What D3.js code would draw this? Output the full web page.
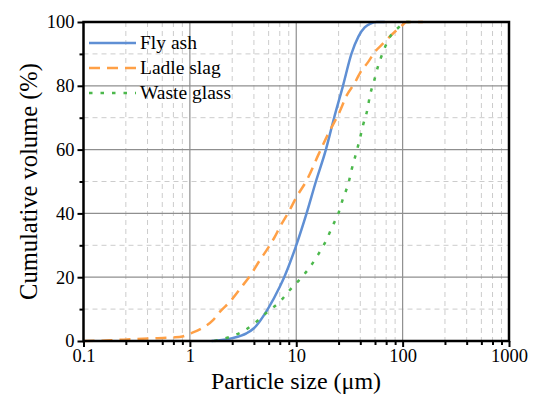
<!DOCTYPE html>
<html>
<head>
<meta charset="utf-8">
<script src="https://cdn.jsdelivr.net/npm/d3@7"></script>
<style>
  html, body { margin: 0; padding: 0; background: #fff; }
  svg { display: block; }
  text { font-family: "Liberation Serif", "Times New Roman", serif; fill: #000; }
</style>
</head>
<body>
<svg id="chart" width="536" height="394"></svg>
<script>
// Particle size distribution (cumulative volume %) of three materials
const flyAshSize = [1.6, 2, 2.5, 3.4, 4, 5.4, 7, 7.7, 10, 12.5, 15.3, 19, 22.7, 27.5, 33, 38.5, 44, 50, 57, 68];
const flyAshVol  = [0, 0.3, 0.9, 2.4, 4, 10, 17, 20, 30, 40, 50, 60, 70, 80, 90, 95.5, 98.3, 99.5, 100, 100];

const ladleSlagSize = [0.1, 0.15, 0.2, 0.3, 0.5, 0.7, 0.85, 1, 1.3, 1.66, 1.92, 2.38, 3.07, 3.81, 4.56, 5.27, 6.3, 7.03, 8.5, 10, 12.6, 16.2, 20, 25.7, 29.8, 35.6, 39.7, 47.5, 55, 63.5, 78.9, 98, 109, 155];
const ladleSlagVol  = [0, 0.1, 0.3, 0.6, 0.9, 1.1, 1.4, 2.3, 4, 6.6, 9.2, 12.3, 17, 21.2, 25.4, 28.5, 32.7, 35.8, 40.5, 45, 50.5, 58.5, 65, 72, 77, 81, 84, 87.5, 90.7, 92.8, 96, 98.8, 100, 100];

const wasteGlassSize = [1.7, 2.38, 3.3, 4.2, 5.4, 7, 8.7, 10.8, 13.4, 16, 19.3, 21.9, 24.9, 27.6, 30.9, 33.2, 36.5, 39.7, 42.5, 46.5, 49.4, 54.2, 58.6, 65.7, 76.3, 91, 109, 136];
const wasteGlassVol  = [0, 1.3, 3.4, 6, 9.2, 12.3, 16, 19.3, 23.1, 27, 31.8, 36, 40, 44.8, 49.4, 53.8, 58.8, 63.5, 67.7, 72.4, 77.1, 81.8, 86, 90.7, 95.4, 98.2, 100, 100];

const seriesNames = ["Fly ash", "Ladle slag", "Waste glass"];

const xMajorTicks = [0.1, 1, 10, 100, 1000];
const xTickLabels = ["0.1", "1", "10", "100", "1000"];
const xMinorSteps = [2.5, 4, 5.5, 7, 8.5];
const yMajorTicks = [0, 20, 40, 60, 80, 100];
const yMinorTicks = [10, 30, 50, 70, 90];

const xTitle = "Particle size (\u03bcm)";
const yTitle = "Cumulative volume (%)";

// ---- layout ----
const svg = d3.select("#chart");
const plotL = 83.5, plotR = 509, plotT = 22, plotB = 341;

const x = d3.scaleLog().domain([0.1, 1000]).range([plotL, plotR]);
const y = d3.scaleLinear().domain([0, 100]).range([plotB, plotT]);

const xMinorTicks = [];
[0.1, 1, 10, 100].forEach(d => xMinorSteps.forEach(s => xMinorTicks.push(d * s)));

// ---- grid ----
const grid = svg.append("g");
grid.selectAll(".gxm").data(xMinorTicks).join("line")
  .attr("x1", d => x(d)).attr("x2", d => x(d)).attr("y1", plotT).attr("y2", plotB)
  .attr("stroke", "#cccccc").attr("stroke-width", 1).attr("stroke-dasharray", "5,4");
grid.selectAll(".gym").data(yMinorTicks).join("line")
  .attr("y1", d => y(d)).attr("y2", d => y(d)).attr("x1", plotL).attr("x2", plotR)
  .attr("stroke", "#cccccc").attr("stroke-width", 1).attr("stroke-dasharray", "5,4");
grid.selectAll(".gxM").data(xMajorTicks.slice(1, -1)).join("line")
  .attr("x1", d => x(d)).attr("x2", d => x(d)).attr("y1", plotT).attr("y2", plotB)
  .attr("stroke", "#8f8f8f").attr("stroke-width", 1.2);
grid.selectAll(".gyM").data(yMajorTicks.slice(1, -1)).join("line")
  .attr("y1", d => y(d)).attr("y2", d => y(d)).attr("x1", plotL).attr("x2", plotR)
  .attr("stroke", "#8f8f8f").attr("stroke-width", 1.2);

// ---- series ----
const series = [
  { name: seriesNames[0], sx: flyAshSize, sy: flyAshVol, color: "#5f8fd4", dash: null },
  { name: seriesNames[1], sx: ladleSlagSize, sy: ladleSlagVol, color: "#ffa046", dash: "11,7" },
  { name: seriesNames[2], sx: wasteGlassSize, sy: wasteGlassVol, color: "#4cb84c", dash: "3.5,8" }
];

const line = d3.line().x(d => x(d[0])).y(d => y(d[1])).curve(d3.curveMonotoneX);

const plot = svg.append("g");
series.forEach(s => {
  const pts = s.sx.map((v, i) => [v, s.sy[i]]);
  plot.append("path").datum(pts)
    .attr("d", line)
    .attr("fill", "none")
    .attr("stroke", s.color)
    .attr("stroke-width", 2.5)
    .attr("stroke-dasharray", s.dash);
});

// ---- axes ----
const xAxis = d3.axisBottom(x).tickValues(xMajorTicks)
  .tickFormat((d, i) => xTickLabels[i]).tickSize(6).tickPadding(2);
const xAxisMinor = d3.axisBottom(x).tickValues(xMinorTicks).tickFormat("").tickSize(4);
const yAxis = d3.axisLeft(y).tickValues(yMajorTicks).tickSize(6).tickPadding(3);
const yAxisMinor = d3.axisLeft(y).tickValues(yMinorTicks).tickFormat("").tickSize(4);

function styleAxis(g) {
  g.select(".domain").remove();
  g.selectAll(".tick line").attr("stroke", "#000").attr("stroke-width", 2);
  g.selectAll(".tick text").attr("font-size", "18.5px")
    .attr("font-family", "'Liberation Serif', 'Times New Roman', serif").attr("fill", "#000");
}

svg.append("g").attr("transform", `translate(0,${plotB})`).call(xAxisMinor).call(styleAxis);
svg.append("g").attr("transform", `translate(0,${plotB})`).call(xAxis).call(styleAxis);
svg.append("g").attr("transform", `translate(${plotL},0)`).call(yAxisMinor).call(styleAxis);
svg.append("g").attr("transform", `translate(${plotL},0)`).call(yAxis).call(styleAxis);

// frame
svg.append("rect")
  .attr("x", plotL).attr("y", plotT).attr("width", plotR - plotL).attr("height", plotB - plotT)
  .attr("fill", "none").attr("stroke", "#000").attr("stroke-width", 2.5);

// ---- titles ----
svg.append("text").attr("x", 296).attr("y", 389)
  .attr("text-anchor", "middle").attr("font-size", "24px").text(xTitle);
svg.append("text").attr("transform", `translate(37,${(plotT + plotB) / 2}) rotate(-90)`)
  .attr("text-anchor", "middle").attr("font-size", "24.5px").text(yTitle);

// ---- legend ----
const legend = svg.append("g");
series.forEach((s, i) => {
  const ly = 43 + i * 25;
  legend.append("line").attr("x1", 89).attr("x2", 136).attr("y1", ly).attr("y2", ly)
    .attr("stroke", s.color).attr("stroke-width", 2.5).attr("stroke-dasharray", s.dash);
  legend.append("text").attr("x", 140).attr("y", ly + 6).attr("font-size", "19.5px").text(s.name);
});
</script>
</body>
</html>
